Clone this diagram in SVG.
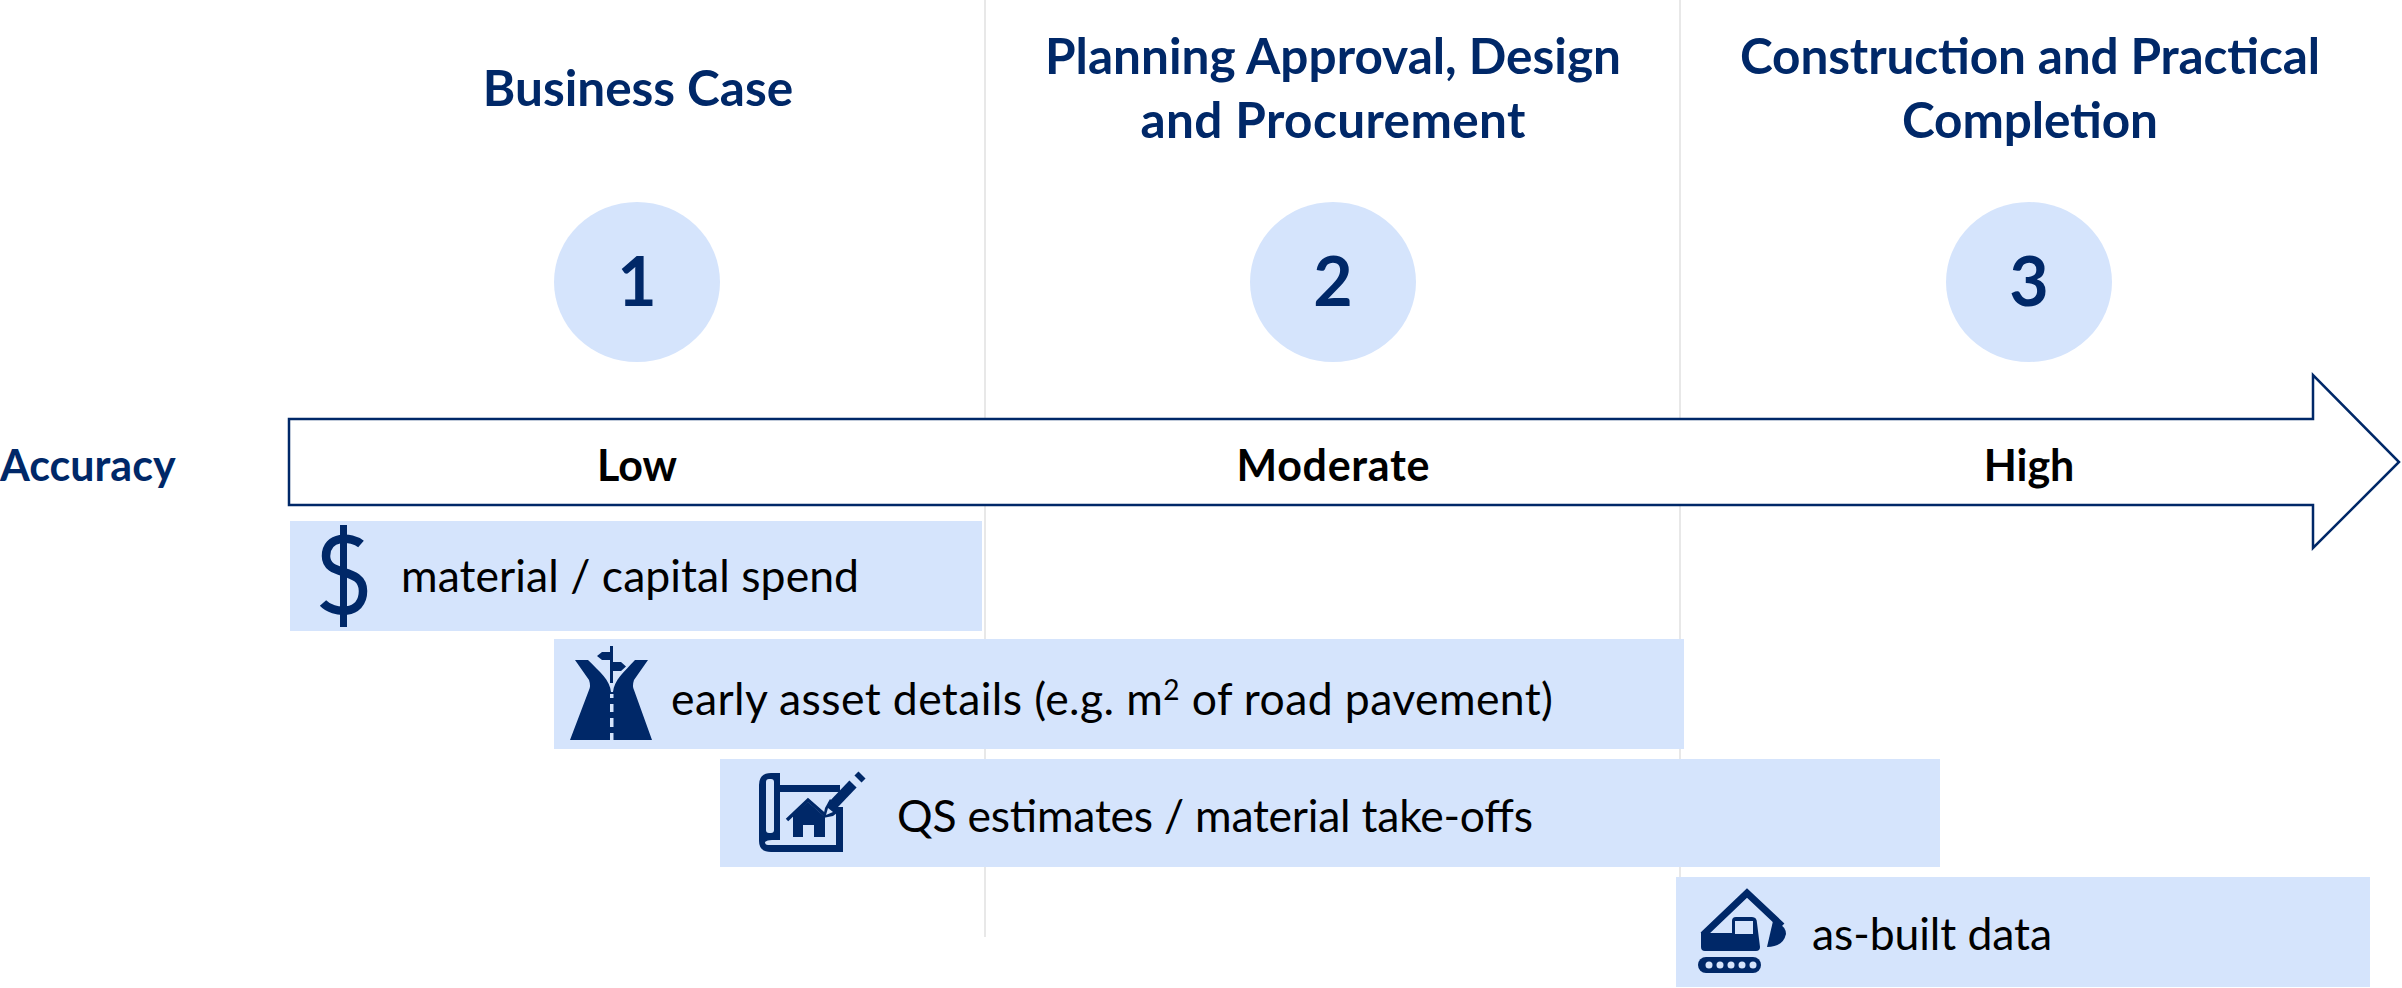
<svg xmlns="http://www.w3.org/2000/svg" width="2402" height="988" viewBox="0 0 2402 988">
<style>
text{font-family:"Lato","Carlito","Liberation Sans",sans-serif}
.h{font-size:49.5px;font-weight:700;fill:#002868;text-anchor:middle}
.n{font-size:68px;font-weight:700;fill:#002868;text-anchor:middle}
.a{font-size:43px;font-weight:700;fill:#000;text-anchor:middle}
.t{font-size:44.500px;fill:#000}
.bar{fill:#d5e4fc}
.c{fill:#d5e4fc}
.i{fill:#002868}
.is{fill:none;stroke:#002868}
.g{stroke:#e8e8e8;stroke-width:2;fill:none}
</style>
<g id="connectors">
<path class="g" d="M985 0V937"/>
<path class="g" d="M1680 0V880"/>
</g>
<g id="stage1"><text class="h" x="638" y="106">Business Case</text><ellipse class="c" cx="637" cy="282" rx="83" ry="80"/><text class="n" x="637" y="306">1</text></g>
<g id="stage2"><text class="h" x="1333" y="74" textLength="576">Planning Approval, Design</text><text class="h" x="1333" y="138" textLength="385">and Procurement</text><ellipse class="c" cx="1333" cy="282" rx="83" ry="80"/><text class="n" x="1333" y="306">2</text></g>
<g id="stage3"><text class="h" x="2030" y="74" textLength="580">Construction and Practical</text><text class="h" x="2030" y="138" textLength="256">Completion</text><ellipse class="c" cx="2029" cy="282" rx="83" ry="80"/><text class="n" x="2029" y="306">3</text></g>
<g id="accuracy"><text x="0" y="481" font-size="43" font-weight="700" fill="#002868">Accuracy</text></g>
<g id="arrow"><path d="M289 419H2313V375L2399 462L2313 548V505H289Z" fill="#fff" stroke="#002868" stroke-width="2.500"/>
<text class="a" x="637" y="481">Low</text><text class="a" x="1333" y="481" textLength="193">Moderate</text><text class="a" x="2029" y="481">High</text></g>
<g id="bar1"><rect class="bar" x="290" y="521" width="692" height="110"/>
<path class="is" stroke-width="8.500" d="M361 544C352 536 326 535 326 556C326 578 363 566 363 591C363 616 333 614 323 603"/>
<rect class="i" x="340" y="525" width="7" height="102"/>
<text class="t" x="401" y="592" textLength="458">material / capital spend</text></g>
<g id="bar2"><rect class="bar" x="554" y="639" width="1130" height="110"/>
<path class="i" d="M575 660H588C600 672 610 680 611 692H613C614 680 624 672 635 660H648L634 680Q632 686 634 690L652 740H570L589 690Q591 686 589 680Z"/>
<path class="i" d="M610 646h3v37h-3zM597 656l5-4h8v8h-8zM613 662h8l5 4.500l-5 4.500h-8z"/>
<path class="bar" d="M610 694h3.500v4h-3.500zM610 704h3.500v8h-3.500zM610 718h3.500v9h-3.500zM610 733h3.500v7h-3.500z"/>
<text class="t" x="671" y="715" textLength="882">early asset details (e.g. m<tspan font-size="28" dy="-15">2</tspan><tspan dy="15"> of road pavement)</tspan></text></g>
<g id="bar3"><rect class="bar" x="720" y="759" width="1220" height="108"/>
<path class="i" d="M771 773H780V785H840V792H780V840H836V807H843V852H771Q759 852 759 841V785Q759 773 771 773Z"/>
<rect class="bar" x="766" y="779" width="8" height="54" rx="3"/>
<path class="bar" d="M772 840H836V845H768Q765 845 765 842Q767 840 772 840Z"/>
<path class="is" stroke-width="10" d="M832 806L853 784"/>
<path class="is" stroke-width="10" d="M858 779L862 775"/>
<path class="i" d="M830 799L841 810L833 816L823 818L825 808Z"/>
<path class="bar" d="M828 808L833 812L826 815Z"/>
<path class="i" d="M793 815L808 802L825 817V837H814V825H803V837H793Z"/>
<path class="is" stroke-width="3.500" d="M787 820L808 800L825 815"/>
<text class="t" x="897" y="832" textLength="636">QS estimates / material take-offs</text></g>
<g id="bar4"><rect class="bar" x="1676" y="877" width="694" height="110"/>
<path class="is" stroke-width="7" d="M1703 935L1747 893L1782 926"/>
<path class="i" d="M1701 933H1732V921Q1732 917 1736 917H1752Q1757 917 1757 923L1760 947Q1760 951 1756 951H1705Q1701 951 1701 947Z"/>
<rect class="bar" x="1735" y="921" width="18" height="13"/>
<path class="i" d="M1773 921Q1786 925 1786 934Q1783 947 1767 947Z"/>
<rect class="i" x="1698" y="957" width="63" height="16" rx="8"/>
<g class="bar"><circle cx="1709" cy="965" r="3.500"/><circle cx="1720" cy="965" r="3.500"/><circle cx="1731" cy="965" r="3.500"/><circle cx="1742" cy="965" r="3.500"/><circle cx="1753" cy="965" r="3.500"/></g>
<text class="t" x="1812" y="950" textLength="240">as-built data</text></g>
</svg>
